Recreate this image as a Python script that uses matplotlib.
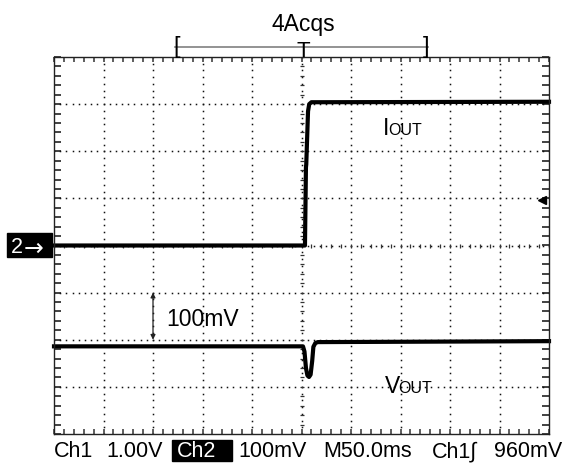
import numpy as np
import matplotlib.pyplot as plt
from matplotlib.patches import Rectangle

plt.rcParams['font.family'] = ['Liberation Sans', 'DejaVu Sans']

# Scope settings (10 x 8 divisions)
ms_per_div = 50.0
ch2_mv_per_div = 100.0
trig_level_div = 0.96          # Ch1 960mV at 1.00V/div
record_window_ms = [-128, 128]

# IOUT trace (Ch1), time in ms, level in divisions
t_iout = [-250, 3.5, 4.5, 4.8, 6.6, 7.8, 10.0, 250]
iout_div = [0.0, 0.0, 1.66, 1.72, 2.85, 3.00, 3.04, 3.05]

# VOUT trace (Ch2), time in ms, level in divisions
t_vout = [-250, 1.5, 3.0, 4.5, 6.0, 7.6, 9.2, 10.8, 12.0, 14.0, 16.5, 250]
vout_div = [-2.14, -2.14, -2.25, -2.60, -2.76, -2.79, -2.74, -2.45, -2.15, -2.07, -2.05, -2.03]

status = [('Ch1', 53.7), ('1.00V', 106), ('Ch2', 176.5), ('100mV', 238),
          ('M50.0ms', 323), ('Ch1\u222b', 432), ('960mV', 494)]

W, H = 569, 466
fig = plt.figure(figsize=(W / 100, H / 100), dpi=100)


def fx(x):
    return x / W


def fy(y):
    return 1 - y / H


ax = fig.add_axes([fx(54), fy(434), 495 / W, 377 / H])
half_t = 5 * ms_per_div
ax.set_xlim(-half_t, half_t)
ax.set_ylim(-4, 4)

# border ticks every 1/5 division
ax.set_xticks(np.arange(-half_t, half_t + 0.1, ms_per_div / 5))
ax.set_yticks(np.arange(-4, 4.01, 0.2))
ax.tick_params(axis='x', direction='in', length=3.3, width=1.1, top=True,
               labelbottom=False, color='#333')
ax.tick_params(axis='y', direction='in', length=5, width=1.3, right=True,
               labelleft=False, color='#333')
for s in ax.spines.values():
    s.set_linewidth(1.0)
    s.set_color('#222')

# dotted graticule
dot = dict(ls='none', marker='s', ms=1.1, mew=0, color='#111')
for k in range(-4, 5):
    gx = k * ms_per_div
    ys = np.arange(-4, 4.001, 1 / 7)
    ax.plot(np.full_like(ys, gx), ys, **dot)
for k in range(-3, 4):
    xs = np.arange(-half_t, half_t + 0.01, ms_per_div / 8)
    ax.plot(xs, np.full_like(xs, k), **dot)

# centre crosshair minor ticks
cx = np.arange(-half_t, half_t + 0.1, ms_per_div / 5)
ax.plot(cx, np.zeros_like(cx), ls='none', marker='|', ms=3.5, mew=0.9, color='#333')
cy = np.arange(-4, 4.01, 0.2)
ax.plot(np.zeros_like(cy), cy, ls='none', marker='_', ms=3.5, mew=0.9, color='#333')

# traces
ax.plot(t_iout, iout_div, color='k', lw=3.0, solid_joinstyle='round', clip_on=False)
ax.plot(t_vout, vout_div, color='k', lw=3.0, solid_joinstyle='round', clip_on=False)

# trigger level marker
ax.plot([half_t - 0.15 * ms_per_div], [trig_level_div], ls='none', marker='<',
        ms=5.5, color='k')

# 100mV scale arrow
ax.annotate('', xy=(-3 * ms_per_div, -1), xytext=(-3 * ms_per_div, -1 - 100 / ch2_mv_per_div),
            arrowprops=dict(arrowstyle='<|-|>', lw=0.9, color='#222', mutation_scale=7,
                            shrinkA=0, shrinkB=0))
ax.text(-137, -1.57, '100mV', fontsize=16.5, va='center', ha='left')

# channel labels
ax.text(82.6, 2.35, 'I', fontsize=16.5, va='baseline', ha='left')
ax.text(87.5, 2.35, 'OUT', fontsize=11.5, va='baseline', ha='left')
ax.text(84.3, -3.125, 'V', fontsize=16.5, va='baseline', ha='left')
ax.text(97.5, -3.125, 'OUT', fontsize=11.5, va='baseline', ha='left')

# acquisition window bracket and trigger position
ax.plot(record_window_ms, [4.21, 4.21], color='#808080', lw=1.2, clip_on=False)
ax.text(record_window_ms[0] - 1.5, 4.21, '[', fontsize=17, ha='left', va='center',
        clip_on=False)
ax.text(record_window_ms[1] + 1.5, 4.21, ']', fontsize=17, ha='right', va='center',
        clip_on=False)
ax.text(1.5, 4.0 + 0.5 / 47.2, 'T', fontsize=16, ha='center', va='baseline', clip_on=False)
fig.text(fx(303.7), fy(30.8), '4Acqs', fontsize=16.5, ha='center', va='baseline')

# Ch2 ground marker
fig.patches.append(Rectangle((fx(7.3), fy(256.7)), 44.4 / W, 24 / H, color='k',
                             transform=fig.transFigure, figure=fig))
fig.text(fx(11), fy(253.3), '2', fontsize=15.5, color='white', va='baseline', ha='left')
fig.text(fx(23.5), fy(249), '\u2192', fontsize=17, color='white', va='center', ha='left',
         family='DejaVu Sans')

# status line
fig.patches.append(Rectangle((fx(172), fy(461)), 60 / W, 21 / H, color='k',
                             transform=fig.transFigure, figure=fig))
for label, x in status:
    c = 'white' if label == 'Ch2' else 'black'
    fig.text(fx(x), fy(457), label, fontsize=15.5, color=c, va='baseline', ha='left')

fig.savefig('out.png', dpi=100, facecolor='white')
